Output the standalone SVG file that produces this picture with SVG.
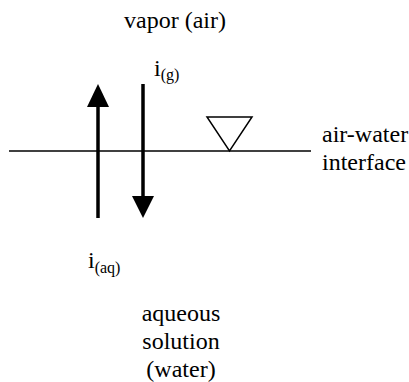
<svg xmlns="http://www.w3.org/2000/svg" width="409" height="382" viewBox="0 0 409 382" font-family="'Liberation Serif', 'Times New Roman', 'DejaVu Serif', serif">
<style>
text{font-family:"Liberation Serif","Times New Roman","DejaVu Serif",serif;fill:#000;font-size:24px}
.sub{font-size:16px}
.c{text-anchor:middle}
</style>
<rect width="409" height="382" fill="#fff"/>
<g id="vapor"><text class="c" x="175" y="28">vapor (air)</text></g>
<g id="interface">
<line x1="9" y1="151" x2="311" y2="151" stroke="#000" stroke-width="1.5"/>
<polygon points="207,117 252,117 229.5,151" fill="none" stroke="#000" stroke-width="1.5"/>
<text x="322" y="142">air-water</text>
<text x="322" y="170">interface</text>
</g>
<g id="water"><text class="c" x="181" y="321">aqueous</text><text class="c" x="181" y="349">solution</text><text class="c" x="181" y="377">(water)</text></g>
<g id="connectors">
<line x1="98" y1="218" x2="98" y2="104" stroke="#000" stroke-width="3.5"/>
<polygon points="87,107 109,107 98,84" fill="#000"/>
<line x1="143" y1="84" x2="143" y2="198" stroke="#000" stroke-width="3.5"/>
<polygon points="132,196 154,196 143,218" fill="#000"/>
</g>
<g id="ig"><text x="154" y="76">i<tspan class="sub" dy="4">(g)</tspan></text></g>
<g id="iaq"><text x="88" y="268">i<tspan class="sub" dy="5">(aq)</tspan></text></g>
</svg>
